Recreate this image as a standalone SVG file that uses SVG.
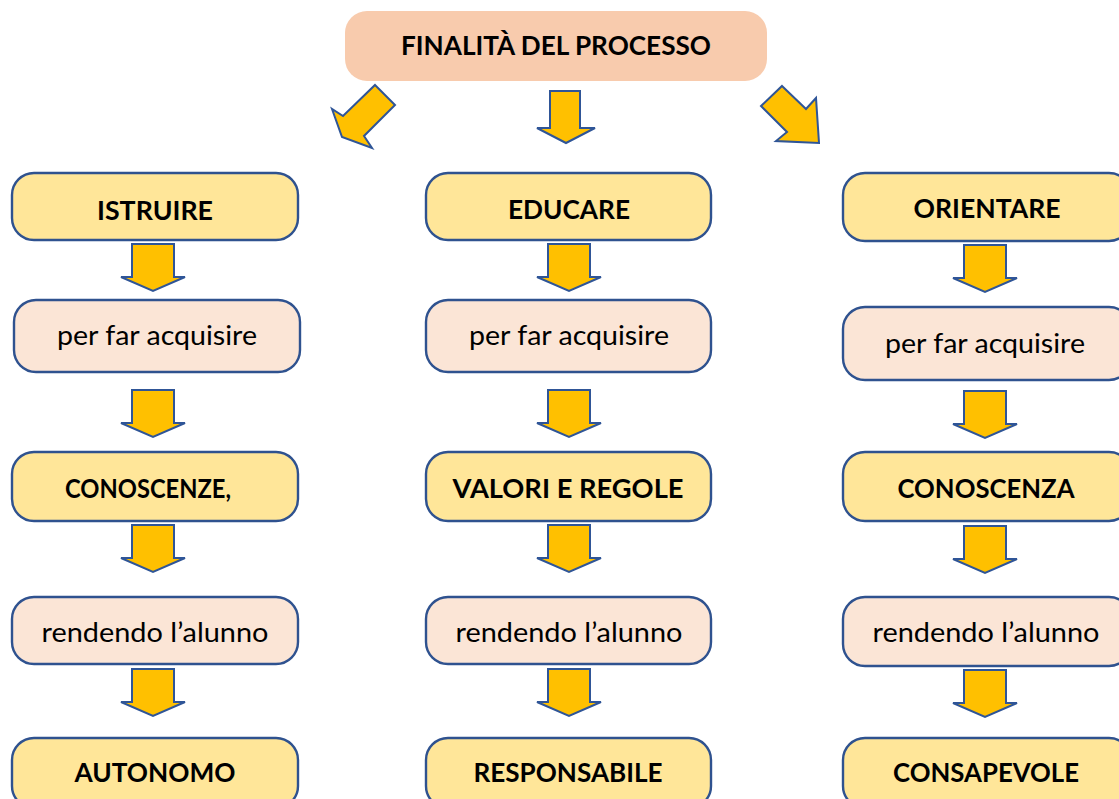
<svg xmlns="http://www.w3.org/2000/svg" width="1119" height="799" viewBox="0 0 1119 799">
<defs>
<style>
.y{fill:#FFE699;stroke:#2F528F;stroke-width:2.4}
.p{fill:#FBE5D6;stroke:#2F528F;stroke-width:2.4}
.b{font-family:Lato,"Open Sans","Liberation Sans",sans-serif;font-weight:bold;font-size:27.5px;fill:#000;text-anchor:middle}
.r{font-family:Lato,"Open Sans","Liberation Sans",sans-serif;font-size:27px;fill:#000;text-anchor:middle}
.ar{fill:#FFC000;stroke:#2F5597;stroke-width:2;stroke-linejoin:miter}
</style>
<path id="dn" d="M-21,0 H21 V33 H32 L0,47 L-32,33 H-21 Z"/>
</defs>
<rect width="1119" height="799" fill="#fff"/>
<g id="n-top">
<rect x="345" y="11" width="422" height="70" rx="22" fill="#F8CBAD"/>
<text class="b" x="556" y="55" textLength="310" lengthAdjust="spacingAndGlyphs">FINALITÀ DEL PROCESSO</text>
</g>
<g id="connectors">
<path class="ar" d="M550,91 H580 V128 H595 L566,143 L537,128 H550 Z"/>
<polygon class="ar" points="375,85 395,105 364,136 372,148 342,137 332,109 343,116"/>
<polygon class="ar" points="782,86 806,109 816,98 819,143 776,141 787,132 761,106"/>
<use href="#dn" class="ar" x="153" y="244"/>
<use href="#dn" class="ar" x="153" y="390"/>
<use href="#dn" class="ar" x="153" y="525"/>
<use href="#dn" class="ar" x="153" y="669"/>
<use href="#dn" class="ar" x="569" y="244"/>
<use href="#dn" class="ar" x="569" y="390"/>
<use href="#dn" class="ar" x="569" y="525"/>
<use href="#dn" class="ar" x="569" y="669"/>
<use href="#dn" class="ar" x="985" y="245"/>
<use href="#dn" class="ar" x="985" y="391"/>
<use href="#dn" class="ar" x="985" y="526"/>
<use href="#dn" class="ar" x="985" y="670"/>
</g>
<g id="n-istruire"><rect class="y" x="12" y="173" width="286" height="67" rx="22"/><text class="b" x="155" y="220" textLength="116" lengthAdjust="spacingAndGlyphs">ISTRUIRE</text></g>
<g id="n-acq1"><rect class="p" x="14" y="300" width="286" height="72" rx="22"/><text class="r" x="157" y="345" textLength="200" lengthAdjust="spacingAndGlyphs">per far acquisire</text></g>
<g id="n-conoscenze"><rect class="y" x="12" y="452" width="286" height="69" rx="22"/><text class="b" x="148" y="498" textLength="166" lengthAdjust="spacingAndGlyphs">CONOSCENZE,</text></g>
<g id="n-rend1"><rect class="p" x="12" y="597" width="286" height="67" rx="22"/><text class="r" x="155" y="642" textLength="227" lengthAdjust="spacingAndGlyphs">rendendo l’alunno</text></g>
<g id="n-autonomo"><rect class="y" x="12" y="738" width="286" height="70" rx="22"/><text class="b" x="155" y="782" textLength="161" lengthAdjust="spacingAndGlyphs">AUTONOMO</text></g>
<g id="n-educare"><rect class="y" x="426" y="173" width="285" height="67" rx="22"/><text class="b" x="569" y="219" textLength="122" lengthAdjust="spacingAndGlyphs">EDUCARE</text></g>
<g id="n-acq2"><rect class="p" x="426" y="300" width="285" height="72" rx="22"/><text class="r" x="569" y="345" textLength="200" lengthAdjust="spacingAndGlyphs">per far acquisire</text></g>
<g id="n-valori"><rect class="y" x="426" y="452" width="285" height="69" rx="22"/><text class="b" x="568" y="498" textLength="231" lengthAdjust="spacingAndGlyphs">VALORI E REGOLE</text></g>
<g id="n-rend2"><rect class="p" x="426" y="597" width="285" height="67" rx="22"/><text class="r" x="569" y="642" textLength="227" lengthAdjust="spacingAndGlyphs">rendendo l’alunno</text></g>
<g id="n-responsabile"><rect class="y" x="426" y="738" width="285" height="70" rx="22"/><text class="b" x="568" y="782" textLength="189" lengthAdjust="spacingAndGlyphs">RESPONSABILE</text></g>
<g id="n-orientare"><rect class="y" x="843" y="173" width="288" height="68" rx="22"/><text class="b" x="987" y="218" textLength="147" lengthAdjust="spacingAndGlyphs">ORIENTARE</text></g>
<g id="n-acq3"><rect class="p" x="843" y="307" width="288" height="73" rx="22"/><text class="r" x="985" y="353" textLength="200" lengthAdjust="spacingAndGlyphs">per far acquisire</text></g>
<g id="n-conoscenza"><rect class="y" x="843" y="452" width="288" height="69" rx="22"/><text class="b" x="986" y="498" textLength="177" lengthAdjust="spacingAndGlyphs">CONOSCENZA</text></g>
<g id="n-rend3"><rect class="p" x="843" y="597" width="288" height="69" rx="22"/><text class="r" x="986" y="642" textLength="227" lengthAdjust="spacingAndGlyphs">rendendo l’alunno</text></g>
<g id="n-consapevole"><rect class="y" x="843" y="738" width="288" height="70" rx="22"/><text class="b" x="986" y="782" textLength="186" lengthAdjust="spacingAndGlyphs">CONSAPEVOLE</text></g>
</svg>
